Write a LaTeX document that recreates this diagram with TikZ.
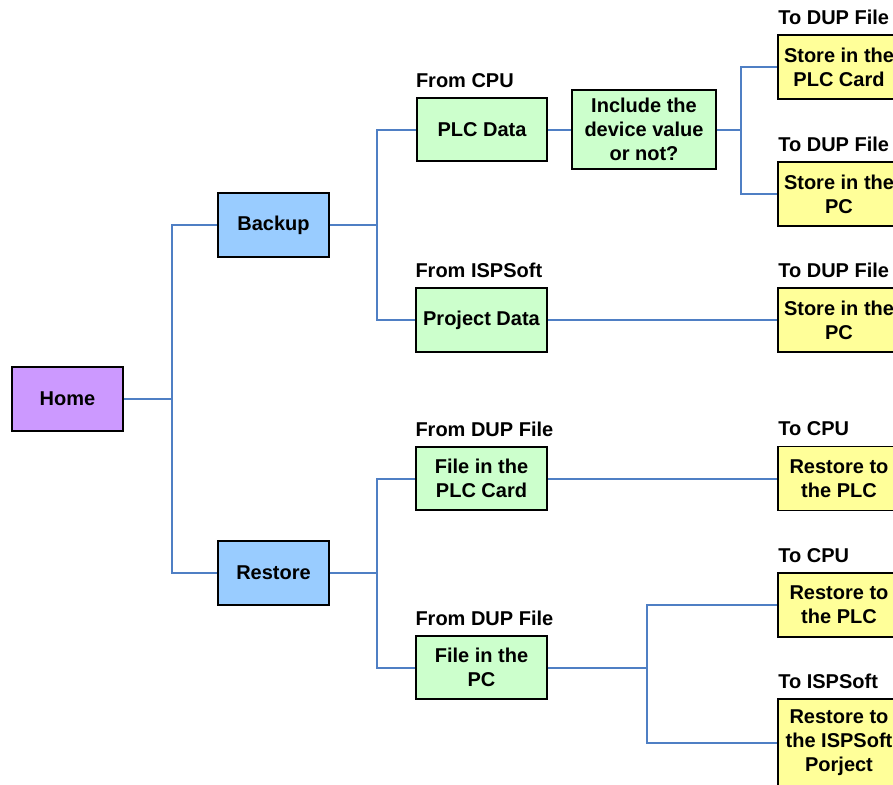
\documentclass[tikz,border=0pt]{standalone}
\usepackage{fontspec}
\setmainfont{Liberation Sans}
\usetikzlibrary{positioning}
\definecolor{homeFill}{HTML}{CC99FF}
\definecolor{modeFill}{HTML}{99CCFF}
\definecolor{srcFill}{HTML}{CCFFCC}
\definecolor{dstFill}{HTML}{FFFF99}
\definecolor{linkBlue}{HTML}{4F7FC4}

\begin{document}
\begin{tikzpicture}[
  x=0.75pt,
  y=-0.75pt,
  line join=miter,
  every node/.style={font=\bfseries\fontsize{15}{18}\selectfont, align=center}
]

% ---------- node styles ----------
\tikzset{
  box/.style={draw=black, line width=1.4pt, inner sep=2pt},
  homeBox/.style={box, fill=homeFill, minimum width=83pt, minimum height=48pt},
  modeBox/.style={box, fill=modeFill, minimum width=83pt, minimum height=48pt},
  srcBox/.style={box, fill=srcFill, minimum width=98pt, minimum height=47.5pt},
  dstBox/.style={box, fill=dstFill, minimum width=92pt, minimum height=48pt},
  tag/.style={inner xsep=0pt, inner ysep=1pt, text=black},
  link/.style={draw=linkBlue, line width=1.5pt}
}

\useasboundingbox (0,0) rectangle (893,785);
\clip (0,0) rectangle (893,785);

% ---------- boxes ----------
\node[homeBox] (home) at (67.5,399) {Home};
\node[modeBox] (backup) at (273.5,225) {Backup};
\node[modeBox] (restore) at (273.5,573) {Restore};

\node[srcBox] (plcData) at (482,129.5) {PLC Data};
\node[srcBox, minimum width=108pt, minimum height=59pt] (ask) at (644,129.5) {Include the\\device value\\or not?};
\node[srcBox] (projData) at (481.5,320) {Project Data};
\node[srcBox] (cardFile) at (481.5,478.5) {File in the\\PLC Card};
\node[srcBox] (pcFile) at (481.5,667.5) {File in the\\PC};

\node[dstBox] (toCard) at (839,67) {Store in the\\PLC Card};
\node[dstBox] (toPc) at (839,194) {Store in the\\PC};
\node[dstBox] (projPc) at (839,320) {Store in the\\PC};
\node[dstBox] (cardPlc) at (839,478.5) {Restore to\\the PLC};
\node[dstBox] (pcPlc) at (839,605) {Restore to\\the PLC};
\node[dstBox, minimum height=66pt] (pcSoft) at (839,743) {Restore to\\the ISPSoft\\Porject};

% ---------- tags ----------
\node[tag, above right=6pt and 0pt of plcData.north west] (fromCpu) {From CPU};
\node[tag, above right=6pt and 0pt of projData.north west] (fromSoft) {From ISPSoft};
\node[tag, above right=6pt and 0pt of cardFile.north west] (fromDupA) {From DUP File};
\node[tag, above right=6pt and 0pt of pcFile.north west] (fromDupB) {From DUP File};
\node[tag, above right=6pt and 1pt of toCard.north west] (toDupA) {To DUP File};
\node[tag, above right=6pt and 1pt of toPc.north west] (toDupB) {To DUP File};
\node[tag, above right=6pt and 1pt of projPc.north west] (toDupC) {To DUP File};
\node[tag, above right=6pt and 1pt of cardPlc.north west] (toCpuA) {To CPU};
\node[tag, above right=6pt and 1pt of pcPlc.north west] (toCpuB) {To CPU};
\node[tag, above right=6pt and 1pt of pcSoft.north west] (toSoft) {To ISPSoft};

% ---------- connectors ----------
\draw[link] (home.east) -- ++(48,0) |- (backup.west);
\draw[link] (home.east) -- ++(48,0) |- (restore.west);
\draw[link] (backup.east) -- ++(47,0) |- (plcData.west);
\draw[link] (backup.east) -- ++(47,0) |- (projData.west);
\draw[link] (plcData) -- (ask);
\draw[link] (ask.east) -- ++(24,0) |- (toCard.west);
\draw[link] (ask.east) -- ++(24,0) |- (toPc.west);
\draw[link] (projData) -- (projPc);
\draw[link] (restore.east) -- ++(47,0) |- (cardFile.west);
\draw[link] (restore.east) -- ++(47,0) |- (pcFile.west);
\draw[link] (cardFile) -- (cardPlc);
\draw[link] (pcFile.east) -- ++(99,0) |- (pcPlc.west);
\draw[link] (pcFile.east) -- ++(99,0) |- (pcSoft.west);

\end{tikzpicture}
\end{document}
